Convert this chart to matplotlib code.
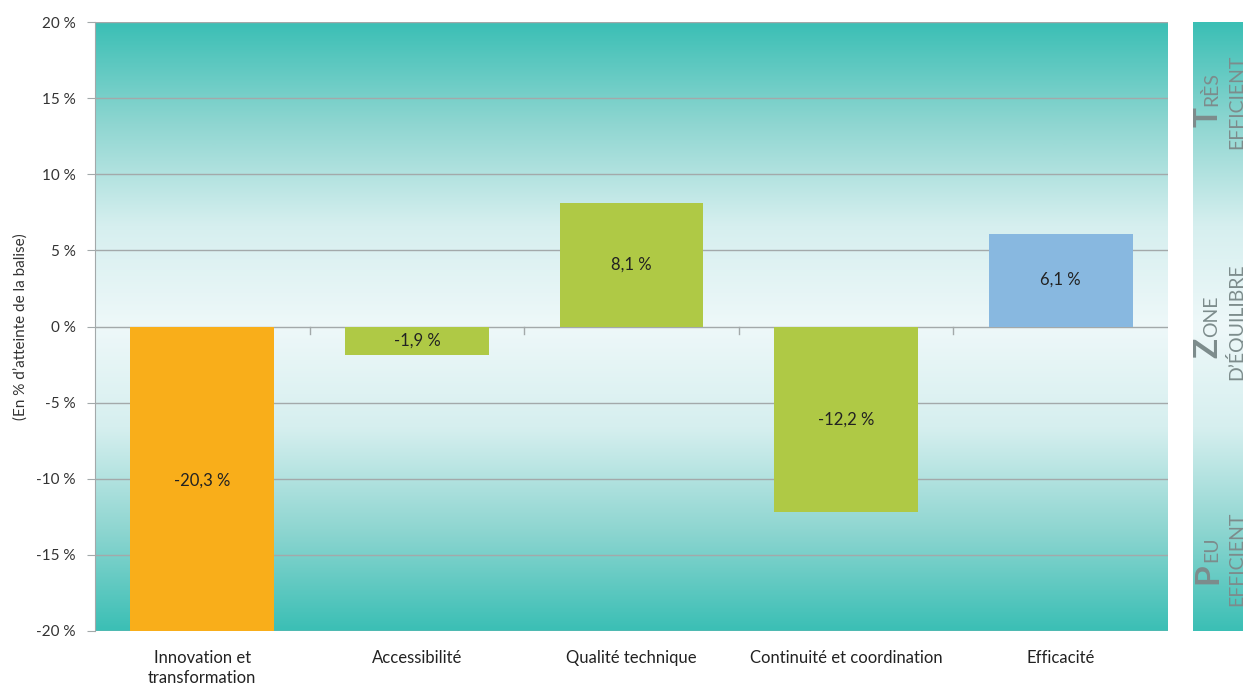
import numpy as np
import matplotlib
matplotlib.use("Agg")
import matplotlib.pyplot as plt
from matplotlib.colors import LinearSegmentedColormap

plt.rcParams['font.family'] = ['Lato', 'DejaVu Sans']

categories = ["Innovation et\ntransformation", "Accessibilité", "Qualité technique",
              "Continuité et coordination", "Efficacité"]
values = [-20.3, -1.9, 8.1, -12.2, 6.1]
labels = ["-20,3 %", "-1,9 %", "8,1 %", "-12,2 %", "6,1 %"]
colors = ["#f9ae1a", "#afc945", "#afc945", "#afc945", "#88b8e0"]
yticks = [-20, -15, -10, -5, 0, 5, 10, 15, 20]

W, H = 1243, 685
fig = plt.figure(figsize=(W / 100, H / 100), dpi=100)
ax = fig.add_axes([95 / W, (H - 631) / H, (1168 - 95) / W, (631 - 22) / H])

# fond en dégradé : turquoise en haut/bas, presque blanc au centre
cmap = LinearSegmentedColormap.from_list("bg", ["#3bbfb5", "#8fd6d1", "#d6efef", "#eef8f9",
                                                "#d6efef", "#8fd6d1", "#3bbfb5"])
grad = np.linspace(0, 1, 256).reshape(-1, 1)
x = np.arange(len(categories))
ax.imshow(grad, aspect="auto", cmap=cmap, extent=[-0.5, len(categories) - 0.5, -20, 20],
          zorder=0, interpolation="bicubic")

for yv in yticks:
    ax.axhline(yv, color="#a3a9aa", lw=1.0, zorder=1)

ax.bar(x, values, width=0.67, color=colors, zorder=2)
for xi, v, lab in zip(x, values, labels):
    ax.text(xi, v / 2, lab, ha="center", va="center", fontsize=12, color="#222222", zorder=3)

ax.set_xlim(-0.5, len(categories) - 0.5)
ax.set_ylim(-20, 20)
ax.set_yticks(yticks)
ax.set_yticklabels([f"{t} %" for t in yticks], fontsize=11, color="#333333")
ax.set_xticks(x)
ax.set_xticklabels(categories, fontsize=12, color="#222222", linespacing=1.3)
ax.tick_params(axis="x", length=0, pad=14)
ax.tick_params(axis="y", length=6, color="#a3a9aa", pad=8)
for sp in ["top", "right", "bottom"]:
    ax.spines[sp].set_visible(False)
ax.spines["left"].set_color("#a3a9aa")
ax.set_ylabel("(En % d’atteinte de la balise)", fontsize=11, color="#333333", labelpad=6)

# petites graduations aux limites des catégories sur la ligne zéro
for b in np.arange(0.5, len(categories) - 0.5, 1):
    ax.plot([b, b], [0, -0.5], color="#a3a9aa", lw=1, zorder=1)

# panneau latéral
pax = fig.add_axes([1193 / W, (H - 631) / H, 50 / W, (631 - 22) / H])
pax.imshow(grad, aspect="auto", cmap=cmap, extent=[0, 1, 0, 1], interpolation="bicubic")
pax.set_xlim(0, 1)
pax.set_ylim(0, 1)
pax.axis("off")

tc = "#7d8c8c"

def side_label(big, small, line2, ybottom):
    # ybottom : bas du mot (pixels depuis le haut)
    yfig = lambda yp: (H - yp) / H
    t = fig.text(1217 / W, yfig(ybottom), big, rotation=90, fontsize=24, color=tc,
                 ha="left", va="baseline", rotation_mode="anchor", fontweight="bold")
    fig.canvas.draw()
    bb = t.get_window_extent()
    fig.text(1217 / W, (bb.y1 + 1) / H, small, rotation=90, fontsize=14, color=tc,
             ha="left", va="baseline", rotation_mode="anchor")
    fig.text(1242 / W, yfig(ybottom + 22), line2, rotation=90, fontsize=14, color=tc,
             ha="left", va="baseline", rotation_mode="anchor")

side_label("T", "RÈS", "EFFICIENT", 127)
side_label("Z", "ONE", "D’ÉQUILIBRE", 358)
side_label("P", "EU", "EFFICIENT", 584)

fig.savefig("out.png", dpi=100)
